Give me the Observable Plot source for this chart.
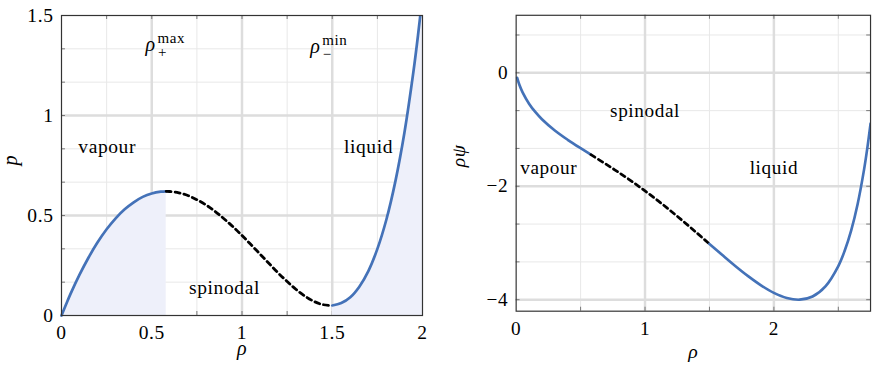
<!DOCTYPE html>
<html><head><meta charset="utf-8">
<script src="https://cdn.jsdelivr.net/npm/d3@7"></script>
<script src="https://cdn.jsdelivr.net/npm/@observablehq/plot@0.6"></script>
<style>
html,body{margin:0;padding:0;background:#fff;overflow:hidden;width:874px;height:368px}
#wrap{position:relative;width:874px;height:368px;overflow:hidden}
#left,#right{position:absolute;top:0}
#left{left:0}
#right{left:440px}
</style></head>
<body><div id="wrap"><div id="left"></div><div id="right"></div></div>
<script>
// ---------- data ----------
// Left panel: pressure p versus density rho
const pVapourRho = [0, 0.025, 0.05, 0.1, 0.15, 0.2, 0.25, 0.3, 0.35, 0.4, 0.45, 0.5, 0.55, 0.58];
const pVapourVal = [0, 0.055, 0.108, 0.204, 0.290, 0.366, 0.431, 0.486, 0.531, 0.566, 0.593, 0.610, 0.619, 0.621];
const pSpinRho = [0.58, 0.6, 0.65, 0.7, 0.75, 0.8, 0.85, 0.9, 0.95, 1.0, 1.05, 1.1, 1.15, 1.2, 1.25, 1.3, 1.35, 1.4, 1.45, 1.5];
const pSpinVal = [0.621, 0.620, 0.613, 0.600, 0.579, 0.553, 0.521, 0.484, 0.444, 0.400, 0.354, 0.307, 0.260, 0.213, 0.170, 0.130, 0.096, 0.070, 0.054, 0.050];
const pLiquidRho = [1.5, 1.55, 1.6, 1.65, 1.7, 1.75, 1.8, 1.85, 1.9, 1.95, 1.975, 2.0];
const pLiquidVal = [0.050, 0.062, 0.091, 0.144, 0.222, 0.333, 0.480, 0.672, 0.915, 1.221, 1.400, 1.600];

// Right panel: free energy density rho*psi versus rho
const fVapourRho = [0.008, 0.025, 0.05, 0.1, 0.15, 0.2, 0.3, 0.4, 0.5, 0.58];
const fVapourVal = [-0.088, -0.211, -0.345, -0.544, -0.695, -0.819, -1.017, -1.181, -1.330, -1.444];
const fSpinRho = [0.58, 0.7, 0.8, 0.9, 1.0, 1.1, 1.2, 1.3, 1.4, 1.5];
const fSpinVal = [-1.444, -1.615, -1.763, -1.918, -2.082, -2.255, -2.436, -2.625, -2.819, -3.017];
const fLiquidRho = [1.5, 1.6, 1.7, 1.8, 1.9, 2.0, 2.1, 2.2, 2.3, 2.4, 2.5, 2.55, 2.6, 2.65, 2.7, 2.725, 2.75];
const fLiquidVal = [-3.017, -3.213, -3.405, -3.585, -3.747, -3.880, -3.970, -4.000, -3.944, -3.765, -3.407, -3.134, -2.778, -2.312, -1.703, -1.328, -0.896];

// ticks and grid
const leftXTicks = [0, 0.5, 1, 1.5, 2];
const leftYTicks = [0, 0.5, 1, 1.5];
const leftXMinor = [0.25, 0.75, 1.25, 1.75];
const leftYMinor = [1/6, 1/3, 2/3, 5/6, 7/6, 4/3];
const rightXTicks = [0, 1, 2];
const rightYTicks = [0, -2, -4];
const rightXMinor = [0.5, 1.5, 2.5];
const rightYMinor = [2/3, -2/3, -4/3, -8/3, -10/3];

// annotations
const leftRegionLabels = [
  {label: "vapour", rho: 0.253, val: 0.842},
  {label: "liquid", rho: 1.701, val: 0.842},
  {label: "spinodal", rho: 0.903, val: 0.139}
];
const rightRegionLabels = [
  {label: "spinodal", rho: 1.0, val: -0.675},
  {label: "vapour", rho: 0.2526, val: -1.678},
  {label: "liquid", rho: 2.0, val: -1.678}
];
const extremaLabels = [
  {base: "ρ", sup: "max", sub: "+", rho: 0.465, val: 1.356},
  {base: "ρ", sup: "min", sub: "−", rho: 1.378, val: 1.346}
];

// ---------- drawing ----------
const zip = (xs, ys) => xs.map((x, i) => ({x, y: ys[i]}));
const BLUE = "#4472b8";
const FILL = "#eef0fa";
const FONT = "Liberation Serif";
const fmt = d3.format("~g");
const curve = "catmull-rom";

function gridMarks(xMajor, xMinor, yMajor, yMinor, xd, yd, tx, ty) {
  const allX = xMajor.concat(xMinor), allY = yMajor.concat(yMinor);
  return [
    Plot.ruleX(xMinor, {stroke: "#e8e8e8", strokeWidth: 1}),
    Plot.ruleY(yMinor, {stroke: "#e8e8e8", strokeWidth: 1}),
    Plot.ruleX(xMajor, {stroke: "#dddddd", strokeWidth: 2.5}),
    Plot.ruleY(yMajor, {stroke: "#dddddd", strokeWidth: 2.5}),
    Plot.ruleX(allX, {y1: yd[0], y2: yd[0] + ty, stroke: "#777", strokeWidth: 1}),
    Plot.ruleX(allX, {y1: yd[1], y2: yd[1] - ty, stroke: "#777", strokeWidth: 1}),
    Plot.ruleY(allY, {x1: xd[0], x2: xd[0] + tx, stroke: "#777", strokeWidth: 1}),
    Plot.ruleY(allY, {x1: xd[1], x2: xd[1] - tx, stroke: "#777", strokeWidth: 1})
  ];
}

function serifize(svg) {
  svg.setAttribute("font-family", FONT);
  svg.setAttribute("font-size", "19.5");
  svg.style.setProperty("font-family", "'" + FONT + "', serif", "important");
  svg.style.setProperty("letter-spacing", "0.6px");
  svg.querySelectorAll("g, text, tspan").forEach(el => {
    if (el.hasAttribute("font-family")) el.setAttribute("font-family", FONT);
    el.style.setProperty("font-family", "'" + FONT + "', serif", "important");
  });
  return svg;
}

const pVap = zip(pVapourRho, pVapourVal);
const pSpin = zip(pSpinRho, pSpinVal);
const pLiq = zip(pLiquidRho, pLiquidVal);

const leftXD = [0, 2], leftYD = [0, 1.5];
const left = Plot.plot({
  width: 440, height: 368,
  marginLeft: 61, marginRight: 18, marginTop: 15, marginBottom: 53,
  x: {domain: leftXD, ticks: leftXTicks, tickFormat: fmt, tickSize: 0, tickPadding: 10, label: null},
  y: {domain: leftYD, ticks: leftYTicks, tickFormat: fmt, tickSize: 0, tickPadding: 8, label: null},
  marks: [
    ...gridMarks([0.5, 1, 1.5], leftXMinor, [0.5, 1], leftYMinor, leftXD, leftYD, 0.022, 0.02),
    Plot.areaY(pVap, {x: "x", y: "y", fill: FILL, curve}),
    Plot.areaY(pLiq, {x: "x", y: "y", fill: FILL, curve, clip: true}),
    Plot.line(pVap, {x: "x", y: "y", stroke: BLUE, strokeWidth: 2.7, curve}),
    Plot.line(pSpin, {x: "x", y: "y", stroke: "#000", strokeWidth: 2.8, strokeDasharray: "5,4", curve}),
    Plot.line(pLiq, {x: "x", y: "y", stroke: BLUE, strokeWidth: 2.7, curve, clip: true}),
    Plot.frame({stroke: "#333", strokeWidth: 1.2}),
    Plot.text(leftRegionLabels, {x: "rho", y: "val", text: "label", fontFamily: FONT, fontSize: 19.5}),
    Plot.text(extremaLabels, {x: "rho", y: "val", text: "base", textAnchor: "start", fontFamily: FONT, fontStyle: "italic", fontSize: 20}),
    Plot.text(extremaLabels, {x: "rho", y: "val", text: "sup", textAnchor: "start", dx: 12, dy: -6.5, fontFamily: FONT, fontSize: 15}),
    Plot.text(extremaLabels, {x: "rho", y: "val", text: "sub", textAnchor: "start", dx: 12.5, dy: 8, fontFamily: FONT, fontSize: 15}),
    Plot.text(["ρ"], {frameAnchor: "bottom", dy: 39, fontFamily: FONT, fontStyle: "italic", fontSize: 20}),
    Plot.text(["p"], {frameAnchor: "left", dx: -51, rotate: -90, fontFamily: FONT, fontStyle: "italic", fontSize: 20})
  ]
});
document.getElementById("left").appendChild(serifize(left));

const fVap = zip(fVapourRho, fVapourVal);
const fSpin = zip(fSpinRho, fSpinVal);
const fLiq = zip(fLiquidRho, fLiquidVal);

const rightXD = [0, 2.75], rightYD = [-4.203, 1.014];
const right = Plot.plot({
  width: 440, height: 368,
  marginLeft: 76.7, marginRight: 4, marginTop: 15, marginBottom: 53,
  x: {domain: rightXD, ticks: rightXTicks, tickFormat: fmt, tickSize: 0, tickPadding: 10, label: null},
  y: {domain: rightYD, ticks: rightYTicks, tickFormat: fmt, tickSize: 0, tickPadding: 8, label: null},
  marks: [
    ...gridMarks([1, 2], rightXMinor, [0, -2, -4], rightYMinor, rightXD, rightYD, 0.03, 0.07),
    Plot.line(fVap, {x: "x", y: "y", stroke: BLUE, strokeWidth: 2.7, curve}),
    Plot.line(fSpin, {x: "x", y: "y", stroke: "#000", strokeWidth: 2.8, strokeDasharray: "5,4", curve}),
    Plot.line(fLiq, {x: "x", y: "y", stroke: BLUE, strokeWidth: 2.7, curve, clip: true}),
    Plot.frame({stroke: "#333", strokeWidth: 1.2}),
    Plot.text(rightRegionLabels, {x: "rho", y: "val", text: "label", fontFamily: FONT, fontSize: 19.5}),
    Plot.text(["ρ"], {frameAnchor: "bottom", dy: 47, fontFamily: FONT, fontStyle: "italic", fontSize: 20}),
    Plot.text(["ρψ"], {frameAnchor: "left", dx: -58, dy: 4, rotate: -90, fontFamily: FONT, fontStyle: "italic", fontSize: 20})
  ]
});
document.getElementById("right").appendChild(serifize(right));
</script>
</body></html>
